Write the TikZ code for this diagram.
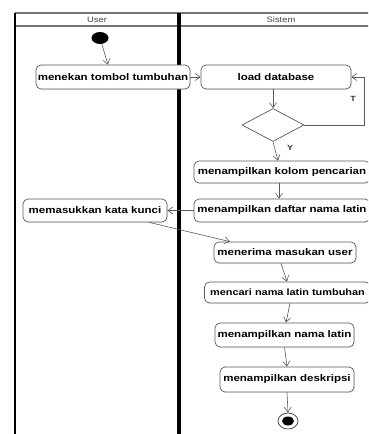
\documentclass[tikz,border=0pt]{standalone}
\usepackage{fontspec}
\setmainfont{Liberation Sans}[FakeStretch=1.2]
\usetikzlibrary{arrows.meta,shapes.geometric,calc,shadows}
\begin{document}
\begin{tikzpicture}[x=1pt,y=-1pt,
  act/.style={draw=black!65, line width=0.7pt, rounded corners=5pt, fill=white,
    inner sep=0pt, font=\fontsize{9.6}{10}\selectfont\bfseries,
    drop shadow={opacity=0.12, shadow xshift=1.2pt, shadow yshift=-1.2pt}},
  arr/.style={draw=black!65, line width=0.6pt, -{Straight Barb[length=5pt,width=7pt]}},
  lane/.style={draw=black, line width=1.6pt},
  head/.style={draw=black!55, line width=1.2pt},
  lbl/.style={font=\fontsize{7.5}{8}\selectfont\bfseries, text=black!80},
  htext/.style={font=\fontsize{7.8}{8}\selectfont, text=black!75}]
\useasboundingbox (0,0) rectangle (368,434);
\clip (0,0) rectangle (368,434);
% swimlanes
\draw[head] (15,13) -- (372,13);
\draw[head] (15,26) -- (372,26);
\draw[lane] (15,13) -- (15,436);
\draw[draw=black, line width=3.6pt] (179,13) -- (179,436);
\node[htext] (huser) at (97,19.5) {User};
\node[htext] (hsis) at (281,19.5) {Sistem};
% nodes
\node[fill=black, ellipse, minimum width=17pt, minimum height=12pt, inner sep=0pt] (start) at (100,38) {};
\node[act, minimum width=154pt, minimum height=24pt] (menekan) at (113,77) {menekan tombol tumbuhan};
\node[act, minimum width=150pt, minimum height=24pt] (load) at (276,77) {load database};
\node[diamond, draw=black!65, line width=0.7pt, fill=white, minimum width=62pt, minimum height=33pt, inner sep=0pt, aspect=1.9] (dia) at (273,125) {};
\node[act, minimum width=176pt, minimum height=22pt] (kolom) at (282,172) {menampilkan kolom pencarian};
\node[act, minimum width=176pt, minimum height=23pt] (daftar) at (282,210.5) {menampilkan daftar nama latin};
\node[act, minimum width=144pt, minimum height=23pt] (kunci) at (95,210.5) {memasukkan kata kunci};
\node[act, minimum width=142pt, minimum height=21pt] (terima) at (285,252.5) {menerima masukan user};
\node[act, minimum width=166pt, minimum height=21pt, font=\fontsize{9.1}{10}\selectfont\bfseries] (cari) at (287.5,292.5) {mencari nama latin tumbuhan};
\node[act, minimum width=139pt, minimum height=24pt] (nama) at (284.5,335) {menampilkan nama latin};
\node[act, minimum width=134pt, minimum height=25pt] (desk) at (287,379.5) {menampilkan deskripsi};
\node[draw=black!70, line width=0.8pt, fill=white, ellipse, minimum width=20pt, minimum height=16pt, inner sep=0pt] (stop) at (288,421) {};
\node[fill=black, ellipse, minimum width=12pt, minimum height=9pt, inner sep=0pt] (stopin) at (288,421) {};
% connectors
\draw[arr] (start) -- ([xshift=-5pt]menekan.north);
\draw[arr] (menekan.east) -- (load.west);
\draw[arr] (load.south -| dia.north) -- (dia.north);
\coordinate (tloop) at (364,77);
\draw[arr] (dia.east) -| (tloop) -- (load.east);
\node[lbl] (tl) at (353,99) {T};
\draw[arr] (dia.south) -- ([xshift=-4pt]kolom.north);
\node[lbl] (yl) at (290,148) {Y};
\draw[arr] ([xshift=-3pt]kolom.south) -- ([xshift=-3pt]daftar.north);
\draw[arr] (daftar.west) -- (kunci.east);
\draw[arr] ([xshift=54pt]kunci.south) -- ([xshift=-55pt]terima.north);
\draw[arr] ([xshift=-4pt]terima.south) -- ([xshift=-0.5pt]cari.north);
\draw[arr] ([xshift=2.5pt]cari.south) -- ([xshift=1.5pt]nama.north);
\draw[arr] ([xshift=0pt]nama.south) -- ([xshift=0pt]desk.north);
\draw[arr] (desk.south) -- (stop.north);
\end{tikzpicture}
\end{document}
